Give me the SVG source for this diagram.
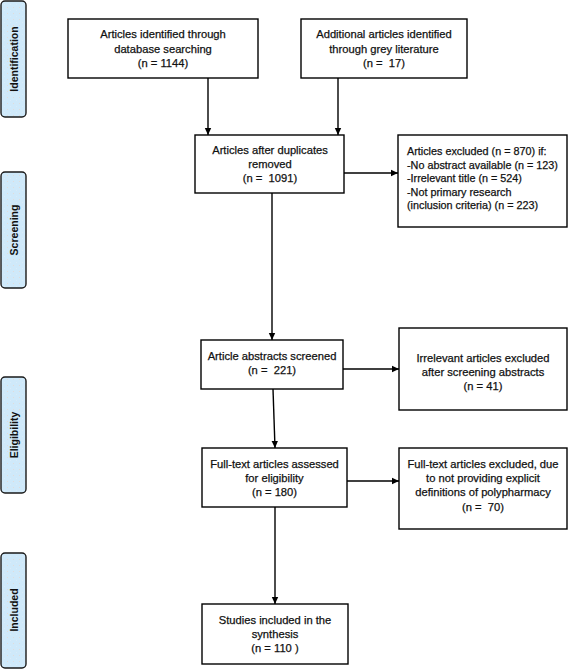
<svg xmlns="http://www.w3.org/2000/svg" width="568" height="670" viewBox="0 0 568 670">
<defs>
<marker id="ah" markerWidth="8" markerHeight="8" refX="7" refY="4" orient="auto" markerUnits="userSpaceOnUse">
<path d="M0,0.8 L7,4 L0,7.2 Z" fill="#000"/>
</marker>
<pattern id="dots" width="6" height="6" patternUnits="userSpaceOnUse">
<rect width="6" height="6" fill="#cfe9fa"/>
<circle cx="1.5" cy="1.5" r="0.5" fill="#e8d8d0"/>
<circle cx="4.5" cy="4.5" r="0.5" fill="#e0eef8"/>
</pattern>
</defs>
<style>
.box{fill:#fff;stroke:#000;stroke-width:1.4}
.side{fill:url(#dots);stroke:#1a1a1a;stroke-width:1.4}
.t{font-family:"Liberation Sans",Arial,sans-serif;font-size:11.2px;fill:#111;text-anchor:middle;stroke:#111;stroke-width:0.25;white-space:pre}
.tl{text-anchor:start;font-size:10.8px}
.st{font-family:"Liberation Sans",Arial,sans-serif;font-size:10.5px;font-weight:bold;fill:#111;text-anchor:middle}
.c{fill:none;stroke:#000;stroke-width:1.4;marker-end:url(#ah)}
</style>
<rect width="568" height="670" fill="#fff"/>

<g id="side-identification">
<rect class="side" x="1" y="1" width="25" height="116" rx="4"/>
<text class="st" transform="translate(17.5,59) rotate(-90)">Identification</text>
</g>
<g id="side-screening">
<rect class="side" x="1" y="172" width="25" height="116" rx="4"/>
<text class="st" transform="translate(17.5,230) rotate(-90)">Screening</text>
</g>
<g id="side-eligibility">
<rect class="side" x="1" y="377" width="25" height="116" rx="4"/>
<text class="st" transform="translate(17.5,435) rotate(-90)">Eligibility</text>
</g>
<g id="side-included">
<rect class="side" x="1" y="553" width="25" height="115" rx="4"/>
<text class="st" transform="translate(17.5,610) rotate(-90)">Included</text>
</g>

<g id="connectors">
<path class="c" d="M208,78 V135"/>
<path class="c" d="M338,78 V135"/>
<path class="c" d="M344,173 H398"/>
<path class="c" d="M272,193 V340"/>
<path class="c" d="M343,369 H399"/>
<path class="c" d="M273,389 L275,448"/>
<path class="c" d="M347,481 H399"/>
<path class="c" d="M275,507 V604"/>
</g>

<g id="n-database">
<rect class="box" x="68" y="19" width="190" height="59"/>
<text class="t" x="163" y="38">Articles identified through</text>
<text class="t" x="163" y="52.5">database searching</text>
<text class="t" x="163" y="67">(n = 1144)</text>
</g>
<g id="n-grey">
<rect class="box" x="301" y="19" width="166" height="59"/>
<text class="t" x="384" y="38">Additional articles identified</text>
<text class="t" x="384" y="52.5">through grey literature</text>
<text class="t" x="384" y="67">(n =  17)</text>
</g>
<g id="n-duplicates">
<rect class="box" x="195" y="135" width="149" height="58"/>
<text class="t" x="270" y="154">Articles after duplicates</text>
<text class="t" x="270" y="168">removed</text>
<text class="t" x="270" y="182">(n =  1091)</text>
</g>
<g id="n-excluded1">
<rect class="box" x="398" y="135" width="169" height="92"/>
<text class="t tl" x="407" y="155">Articles excluded (n = 870) if:</text>
<text class="t tl" x="407" y="168.5">-No abstract available (n = 123)</text>
<text class="t tl" x="407" y="182">-Irrelevant title (n = 524)</text>
<text class="t tl" x="407" y="195.5">-Not primary research</text>
<text class="t tl" x="407" y="209">(inclusion criteria) (n = 223)</text>
</g>
<g id="n-abstracts">
<rect class="box" x="201" y="340" width="142" height="49"/>
<text class="t" x="272" y="360">Article abstracts screened</text>
<text class="t" x="272" y="374">(n =  221)</text>
</g>
<g id="n-excluded2">
<rect class="box" x="399" y="328" width="168" height="82"/>
<text class="t" x="483" y="362">Irrelevant articles excluded</text>
<text class="t" x="483" y="376">after screening abstracts</text>
<text class="t" x="483" y="390">(n = 41)</text>
</g>
<g id="n-fulltext">
<rect class="box" x="202" y="448" width="145" height="59"/>
<text class="t" x="274.5" y="468">Full-text articles assessed</text>
<text class="t" x="274.5" y="482">for eligibility</text>
<text class="t" x="274.5" y="496">(n = 180)</text>
</g>
<g id="n-excluded3">
<rect class="box" x="399" y="448" width="168" height="81"/>
<text class="t" x="483" y="468">Full-text articles excluded, due</text>
<text class="t" x="483" y="482">to not providing explicit</text>
<text class="t" x="483" y="496">definitions of polypharmacy</text>
<text class="t" x="483" y="511">(n =  70)</text>
</g>
<g id="n-included">
<rect class="box" x="202" y="604" width="146" height="60"/>
<text class="t" x="275" y="624">Studies included in the</text>
<text class="t" x="275" y="638">synthesis</text>
<text class="t" x="275" y="652">(n = 110 )</text>
</g>
</svg>
